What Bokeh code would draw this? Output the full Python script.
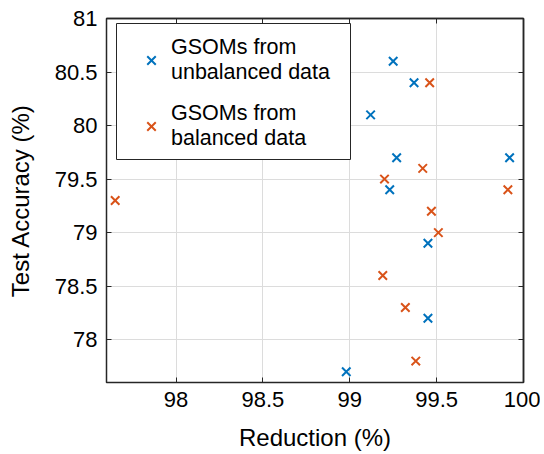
from bokeh.plotting import figure
from bokeh.models import (LinearAxis, Legend, LegendItem, FixedTicker, ColumnDataSource,
                          CustomJSTickFormatter, BoxAnnotation)
from bokeh.embed import file_html
from bokeh.resources import INLINE

# Data
unbal_reduction = [99.25, 99.37, 99.12, 99.27, 99.92, 99.23, 99.45, 99.45, 98.98]
unbal_accuracy = [80.6, 80.4, 80.1, 79.7, 79.7, 79.4, 78.9, 78.2, 77.7]
bal_reduction = [99.46, 99.42, 99.20, 99.91, 97.65, 99.47, 99.51, 99.19, 99.32, 99.38]
bal_accuracy = [80.4, 79.6, 79.5, 79.4, 79.3, 79.2, 79.0, 78.6, 78.3, 77.8]

x_ticks = [98, 98.5, 99, 99.5, 100]
y_ticks = [78, 78.5, 79, 79.5, 80, 80.5, 81]
x_range = (97.6, 100)
y_range = (77.6, 81)

BLUE = "#0072BD"
ORANGE = "#D95319"
AX = "#262626"
FONT = "Liberation Sans"

p = figure(width=540, height=454, x_range=x_range, y_range=y_range,
           output_backend="svg", toolbar_location=None,
           min_border_left=106, min_border_right=17, min_border_top=18, min_border_bottom=72)

p.background_fill_color = "white"
p.outline_line_color = AX
p.outline_line_width = 1.5
p.outline_line_alpha = 1

for ax in p.xaxis + p.yaxis:
    ax.major_tick_in = 5
    ax.major_tick_out = 0
    ax.minor_tick_line_color = None
    ax.axis_line_color = AX
    ax.major_tick_line_color = AX
    ax.major_label_text_font = FONT
    ax.major_label_text_font_size = "22px"
    ax.major_label_text_color = "black"
    ax.axis_label_text_font = FONT
    ax.axis_label_text_font_size = "24px"
    ax.axis_label_text_font_style = "normal"
    ax.axis_label_text_color = "black"

p.xaxis.ticker = FixedTicker(ticks=x_ticks)
p.yaxis.ticker = FixedTicker(ticks=y_ticks)
p.xaxis.axis_label = "Reduction (%)"
p.yaxis.axis_label = "Test Accuracy (%)"
p.xaxis.major_label_standoff = 9
p.yaxis.major_label_standoff = 9
p.xaxis.axis_label_standoff = 14
p.yaxis.axis_label_standoff = 18

p.xgrid.ticker = FixedTicker(ticks=x_ticks)
p.ygrid.ticker = FixedTicker(ticks=y_ticks)
p.xgrid.grid_line_color = "#DCDCDC"
p.ygrid.grid_line_color = "#DCDCDC"

# top/right axes: inward ticks, no labels
top = LinearAxis(ticker=FixedTicker(ticks=x_ticks), formatter=CustomJSTickFormatter(code="return '';"),
                 major_tick_in=5, major_tick_out=0, minor_tick_line_color=None,
                 axis_line_color=AX, axis_line_width=1.5, major_tick_line_color=AX,
                 major_label_standoff=0)
right = LinearAxis(ticker=FixedTicker(ticks=y_ticks), formatter=CustomJSTickFormatter(code="return '';"),
                   major_tick_in=5, major_tick_out=0, minor_tick_line_color=None,
                   axis_line_color=AX, axis_line_width=1.5, major_tick_line_color=AX,
                   major_label_standoff=0)
p.add_layout(top, "above")
p.add_layout(right, "right")

src_u = ColumnDataSource(dict(x=unbal_reduction, y=unbal_accuracy))
src_b = ColumnDataSource(dict(x=bal_reduction, y=bal_accuracy))
r1 = p.scatter("x", "y", source=src_u, marker="x", size=12, line_color=BLUE, line_width=2)
r2 = p.scatter("x", "y", source=src_b, marker="x", size=12, line_color=ORANGE, line_width=2)

# legend frame (screen units relative to the plot frame)
box = BoxAnnotation(left=10, right=244, bottom=223, top=359,
                    left_units="screen", right_units="screen",
                    bottom_units="screen", top_units="screen",
                    fill_color="white", fill_alpha=1, line_color=AX, line_width=1, line_alpha=1)
p.add_layout(box)

legend = Legend(items=[LegendItem(label="GSOMs from\nunbalanced data", renderers=[r1]),
                       LegendItem(label="GSOMs from\nbalanced data", renderers=[r2])],
                location=(30, 231))
legend.label_text_font = FONT
legend.label_text_font_size = "21.5px"
legend.label_text_color = "black"
legend.label_text_line_height = 1.61
legend.label_standoff = 5
legend.glyph_width = 30
legend.glyph_height = 30
legend.padding = 0
legend.spacing = 16
legend.margin = 0
legend.border_line_color = None
legend.background_fill_alpha = 0
p.add_layout(legend, "center")

open("out.html", "w").write(file_html(p, INLINE))
